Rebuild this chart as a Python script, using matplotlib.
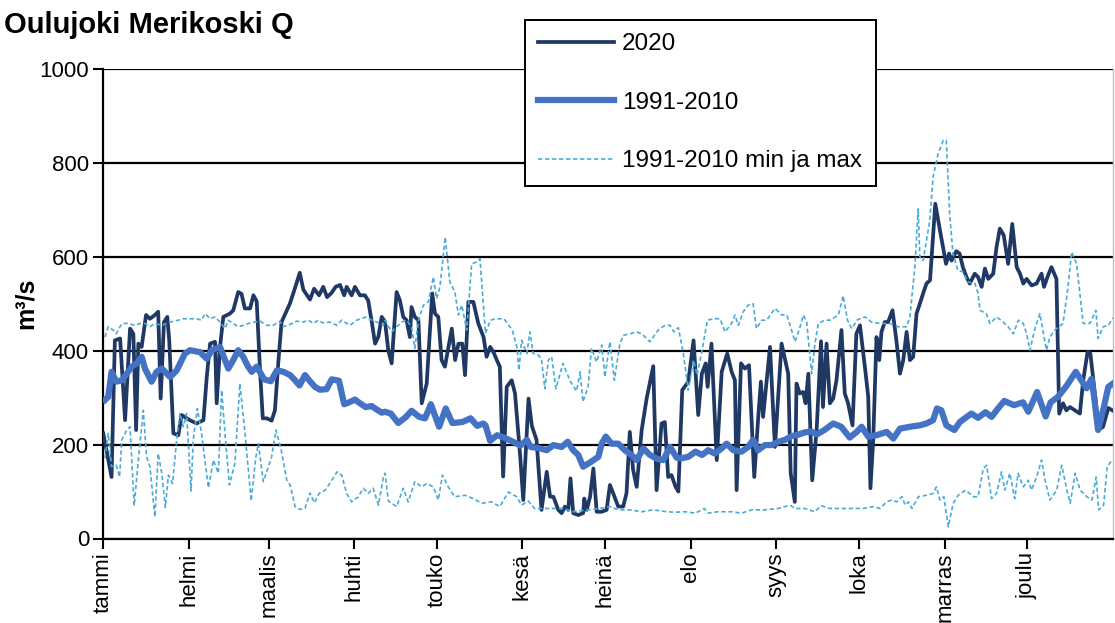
import numpy as np
import matplotlib
matplotlib.use('Agg')
import matplotlib.pyplot as plt
import matplotlib.transforms as mtransforms

plt.rcParams['font.family'] = ['Liberation Sans', 'DejaVu Sans']

# month labels, ticks at the first day of each month (2020, day of year)
months = ['tammi', 'helmi', 'maalis', 'huhti', 'touko', 'kesä',
          'heinä', 'elo', 'syys', 'loka', 'marras', 'joulu']
month_start = [0, 31, 60, 91, 121, 152, 182, 213, 244, 274, 305, 335]

# 2020 daily discharge (day of year, m3/s)
d2020 = [0.1, 3.1, 4.3, 6.2, 8.0, 9.8, 11, 12, 12.8, 14, 15.6, 17, 18.8, 20, 20.9, 22.1, 23.3, 24,
         25.5, 27.3, 28.5, 31.5, 33.9, 36.4, 37.6, 38.8, 40.6, 41.2, 42.4, 43.6, 46, 47.2, 49, 50.2,
         51.4, 53.3, 54.5, 55.7, 56.9, 57.9, 59.3, 61.1, 62.3, 63.5, 64.7, 67.7, 69.5, 71.3, 72.6,
         75, 76.5, 78.3, 79.8, 81.2, 82.8, 84.3, 85.9, 87.4, 88.3, 90.1, 91.3, 93.1, 94.9, 96.1,
         97.4, 98.6, 99.8, 101, 102.2, 103.4, 104.6, 106.4, 107.6, 108.8, 110, 111.2, 111.8, 113,
         114.3, 115.5, 117.3, 119.3, 120.3, 121.5, 122.7, 123.9, 125.2, 126.4, 127.6, 128.8, 130.2,
         131.2, 132.4, 134.2, 136, 137.9, 139, 140.3, 141.5, 142.7, 143.8, 145, 146.3, 148.1, 149.3,
         151.1, 152.3, 154.2, 155.4, 157.1, 158.9, 160.8, 162, 163.2, 165, 166.2, 167.4, 168.6,
         169.4, 170.4, 172.2, 174, 174.4, 175.3, 176.5, 177.7, 178.9, 180.7, 182.5, 183.7, 184.9,
         186.7, 188.5, 189.7, 190.9, 192.1, 193.4, 195.2, 197, 199.4, 200.6, 202.4, 203.6, 204.8,
         206, 207.5, 208.5, 209.9, 212.1, 214, 215.7, 217, 218.4, 219.1, 220.5, 222.4, 224.2,
         226.2, 227.8, 229, 229.6, 231.2, 232.6, 234.1, 236, 237.4, 238.4, 239.2, 241.7, 243.5,
         245.9, 248.3, 249.2, 250.7, 251.3, 252.5, 253.7, 254.6, 255.6, 257, 258.6, 260.2, 260.9,
         262.2, 263.4, 264.6, 265.8, 267.6, 268.8, 270, 271.6, 273, 274.3, 276.1, 277.3, 278.1,
         279.1, 280.3, 281.3, 282.1, 283.3, 284.5, 286.1, 287.5, 288.8, 290, 291.2, 292.4, 293.6,
         294.8, 296, 297.2, 298.4, 299.7, 301.6, 303.3, 305.5, 306.6, 307.5, 309.2, 310.4, 311.6,
         312.9, 314.1, 315.9, 317.1, 318.4, 319.6, 320.8, 322.6, 323.8, 325, 326.4, 328, 329.5,
         331.1, 332.3, 333.5, 334.7, 336.5, 338.3, 340.1, 341, 342.5, 343.7, 345.5, 346.5, 347.9,
         349.1, 350.4, 352.2, 354, 355.2, 356.8, 357.8, 359.6, 360.6, 362.4, 364.3, 366]
q2020 = [224, 131, 422, 426, 252, 447, 436, 231, 415, 408, 476, 468, 476, 483, 298, 461, 472, 422,
         224, 220, 263, 252, 245, 252, 344, 415, 419, 288, 408, 472, 479, 486, 525, 521,
         490, 490, 518, 505, 358, 256, 256, 251, 273, 373, 461, 500, 532, 566, 530,
         509, 532, 518, 536, 514, 523, 536, 540, 518, 536, 518, 536, 518, 518, 507,
         461, 415, 430, 472, 462, 400, 373, 525, 507, 472, 465, 429, 493, 472,
         465, 288, 330, 522, 479, 472, 380, 366, 408, 447, 380, 415, 415,
         348, 504, 504, 458, 429, 387, 408, 397, 380, 366, 132, 323, 337, 309,
         181, 82, 298, 240, 210, 61, 142, 89, 89, 61, 54, 68, 61,
         128, 54, 50, 54, 85, 61, 89, 149, 57, 57, 61, 114, 96,
         68, 68, 96, 227, 146, 110, 231, 298, 367, 103, 245, 248, 131,
         135, 110, 100, 316, 334, 422, 263, 351, 373, 323, 415, 167, 355,
         394, 355, 337, 103, 373, 362, 369, 131, 255, 334, 259, 408, 195,
         415, 351, 139, 78, 330, 309, 312, 288, 351, 124, 231, 420, 280,
         415, 288, 298, 337, 444, 309, 288, 241, 436, 454, 365, 302, 107,
         209, 429, 380, 440, 461, 461, 486, 422, 351, 380, 440, 380, 387,
         479, 500, 522, 543, 550, 713, 656, 585, 607, 592, 612, 607, 578,
         557, 543, 564, 557, 536, 575, 553, 564, 621, 660, 646, 585, 670,
         578, 564, 543, 553, 539, 543, 564, 536, 561, 578, 553, 266, 288,
         273, 280, 273, 266, 337, 398, 394, 300, 231, 238, 278, 272]

# 1991-2010 mean
dmean = [0.7, 1.9, 3.1, 4.8, 6.8, 8.6, 10.4, 12.2, 14, 15.2, 17.6, 19.4, 21.3, 24.3, 26.7, 29.7,
         31.5, 35.1, 37.6, 39.4, 42.4, 45.4, 47.2, 49, 50.8, 52.5, 53.9, 55.7, 58.4, 60.8, 63,
         65.4, 67.8, 69.6, 71.2, 73.2, 75, 76.8, 78.6, 81, 82.9, 85.5, 87.4, 89.2, 91.3, 93.1,
         95.2, 97.4, 98.6, 101, 102.2, 104.3, 107, 109.6, 111.8, 114.6, 116.7, 118.8, 121.8,
         124.2, 126.6, 130.2, 133.2, 135.6, 137.8, 138.6, 140.3, 142.8, 145.3, 148.6, 151.3,
         153.6, 155, 158.3, 160.8, 163.2, 166.2, 168.4, 170.4, 172.2, 174, 176.5, 179.5, 180.7,
         182.2, 184.3, 186.7, 189.1, 191.5, 193.4, 195.8, 198.2, 200.6, 203, 205.5, 207.9, 209.7,
         212.1, 214.7, 217.1, 219.3, 221.7, 224.2, 226, 228.4, 231.4, 233.8, 235.6, 237.4, 239.9,
         242.3, 244.7, 247.1, 249.5, 251.9, 254.3, 256.5, 258.8, 261.4, 264.6, 267.5, 270.6,
         273.1, 274.9, 277.3, 280.3, 284, 286.4, 288.8, 292.4, 296, 298.4, 300.8, 302.2, 303.8,
         305.6, 308.5, 310.5, 312.5, 314.7, 317.1, 319.8, 322, 324.2, 326.6, 330.1, 333.4, 335.3,
         338.5, 341.6, 343.4, 346.1, 349.4, 352.5, 354.3, 356.4, 358.2, 359.2, 360.6, 362.7,
         364.3, 366]
qmean = [295, 302, 355, 334, 337, 351, 366, 373, 387, 362, 334, 355, 362, 344, 358, 394,
         401, 397, 383, 401, 408, 362, 380, 401, 387, 367, 355, 366, 339, 335, 358,
         355, 348, 337, 326, 348, 335, 323, 317, 318, 339, 336, 286, 290, 296, 288,
         280, 282, 277, 268, 270, 266, 246, 258, 272, 259, 256, 286, 238,
         277, 246, 248, 256, 240, 245, 241, 208, 220, 215, 206, 198,
         210, 195, 192, 188, 199, 195, 206, 188, 178, 153, 162, 174, 202,
         217, 202, 202, 188, 178, 167, 192, 178, 170, 167, 195, 172, 171,
         174, 185, 178, 188, 181, 192, 202, 188, 185, 195, 210, 188, 199,
         199, 206, 210, 218, 221, 226, 228, 222, 231, 245, 238, 215,
         227, 238, 217, 220, 227, 213, 234, 238, 241, 245, 252, 277, 273,
         241, 231, 248, 257, 266, 257, 269, 259, 276, 293, 284, 290, 270,
         312, 260, 290, 302, 327, 355, 339, 320, 340, 300, 231, 280,
         323, 330]

# 1991-2010 maximum
dmax = [0.7, 1.9, 3.7, 4.8, 6.8, 9.2, 11.6, 13.4, 15.2, 17, 18.8, 21.3, 24.3, 27.3, 29.1, 31.5,
        33.9, 35.7, 37, 38.8, 40.6, 42.4, 44.2, 45.4, 47.2, 49, 50.8, 53.3, 56.9, 59.3, 61.7,
        64.1, 65.3, 67.8, 70.2, 72.6, 74.4, 76.2, 78, 79.8, 82.2, 84.7, 86.5, 89.5, 91.9, 95.5,
        97.4, 99.2, 101.6, 102.2, 104.6, 106.4, 108.3, 110, 111.8, 113, 114.3, 116.1, 117.9,
        119.7, 120.9, 122.1, 124, 125.7, 127.5, 128.8, 130, 131.8, 133.6, 135.4, 136.6, 138.6,
        140.4, 142.3, 145.3, 148.3, 150, 150.7, 151.7, 153.6, 154.7, 155.9, 157.5, 158.9, 160.1,
        161.4, 162.6, 164.1, 166.7, 169.3, 171.6, 172.9, 173.9, 175.8, 177, 178.9, 180.7, 181.9,
        183.7, 185.3, 187.3, 188.6, 191, 193.4, 195.2, 198.2, 201.2, 203.6, 205.5, 206.9, 208.5,
        210.3, 212.1, 214, 215.3, 217.1, 219, 221.4, 223.6, 225.4, 227.8, 229, 230.2, 232, 233.8,
        235.6, 236.8, 238.7, 240.5, 243.5, 246, 247.8, 249, 250.8, 252.6, 253.8, 255, 256.8, 258,
        259.2, 261.6, 263.4, 266.5, 268.2, 269.8, 271.3, 273.4, 276.1, 278.5, 281.5, 285.1,
        288.2, 291.2, 292.4, 294.2, 295.4, 296, 297.2, 299.6, 300.8, 302.6, 304.5, 305.6, 306.8,
        308, 309.8, 311.6, 313.5, 316, 317.1, 317.8, 320.1, 321.4, 323.8, 326.2, 328, 329.9,
        331.7, 333.5, 334.7, 335.9, 337.7, 339.5, 341.9, 343.1, 344.9, 347.9, 349.7, 351, 352.8,
        355.2, 357.6, 359.8, 360.6, 362.4, 364.3, 366]
qmax = [429, 451, 444, 436, 458, 458, 454, 458, 458, 451, 458, 454, 461, 465, 468, 468,
        468, 465, 479, 468, 472, 461, 447, 465, 458, 451, 454, 459, 463, 454, 454,
        463, 451, 456, 463, 461, 465, 458, 465, 459, 461, 454, 465, 454, 465, 472,
        465, 461, 454, 465, 440, 451, 461, 465, 451, 405, 465, 497, 504,
        557, 511, 536, 642, 546, 525, 476, 497, 444, 585, 589, 596, 437,
        465, 468, 468, 444, 408, 358, 422, 394, 440, 394, 392, 383, 319,
        380, 387, 319, 373, 335, 314, 355, 291, 323, 405, 376, 412, 344,
        419, 337, 415, 433, 436, 440, 436, 419, 444, 454, 454, 440, 449,
        394, 316, 380, 348, 401, 465, 468, 468, 440, 458, 476, 454, 483, 497,
        500, 447, 465, 465, 490, 476, 476, 454, 419, 451, 476, 461, 351, 415,
        458, 465, 465, 476, 517, 465, 447, 466, 472, 461, 458, 458,
        451, 451, 472, 578, 702, 600, 592, 677, 770, 819, 848, 848, 692,
        607, 571, 568, 546, 543, 522, 486, 479, 458, 472, 461, 451, 436,
        465, 458, 436, 401, 447, 479, 401, 429, 444, 458, 536, 610, 585,
        458, 458, 486, 426, 451, 454, 470]

# 1991-2010 minimum
dmin = [0.7, 1.9, 3.1, 4.8, 6, 6.8, 8.6, 9.8, 11.3, 12.8, 14.6, 15.8, 17, 18.8, 20, 21.3, 22.6,
        23.7, 25.2, 26.7, 27.9, 29.1, 30.3, 31.9, 32.7, 34.2, 35.7, 38.2, 40, 41.8, 43, 44.2,
        45.8, 47.8, 49.6, 51.4, 53.7, 55.3, 56.3, 58.1, 61.1, 62.7, 64.7, 66.6, 67.8, 69.6,
        71.4, 73.2, 75, 76.6, 78.3, 80.5, 82.5, 84.8, 86.5, 88.3, 90.1, 92.5, 94.3, 96.1, 97.9,
        99.8, 101.6, 102.2, 103.4, 106.4, 108.8, 110.6, 113, 115.5, 117.3, 119.7, 121.5, 123,
        125.1, 127.4, 131.2, 134.2, 137.2, 140.8, 143.8, 146.9, 149.9, 151.7, 154.1, 156.5,
        159.5, 163.2, 166.8, 170.4, 175.3, 180.1, 183.7, 186.7, 190.9, 195.2, 199.4, 204.2,
        207.2, 210.9, 214.7, 217.9, 219.3, 222.9, 227.8, 231.4, 235.1, 239.9, 244.7, 249, 250.7,
        254.3, 257.9, 260.2, 263.4, 267.1, 270.7, 275.5, 279.1, 281.5, 284, 285.8, 287.6, 289.5,
        290.7, 291.9, 293.1, 295.5, 298.4, 300.8, 302, 303.3, 304.7, 306.3, 308.1, 309.9, 312.6,
        315.4, 317.1, 319, 320.2, 322, 323.8, 325.6, 326.8, 328.6, 330.4, 331.6, 333.5, 335.3,
        336.5, 338.3, 340.1, 341.4, 343.1, 345.6, 347.4, 349.3, 350.5, 352.3, 354.1, 356.5,
        358.4, 359.9, 360.8, 362.6, 363.9, 365.6]
qmin = [171, 224, 153, 156, 131, 210, 231, 238, 70, 167, 273, 174, 153, 46, 181, 139, 66,
        135, 117, 210, 266, 238, 266, 101, 210, 277, 224, 108, 167, 139, 316, 224,
        114, 160, 330, 228, 80, 170, 202, 121, 174, 231, 185, 124, 114, 68,
        62, 64, 97, 76, 96, 103, 120, 142, 135, 96, 78, 89, 107, 96, 107,
        71, 131, 139, 80, 68, 107, 78, 121, 110, 117, 110, 82, 135,
        110, 89, 92, 85, 75, 78, 68, 99, 89, 71, 80, 63,
        64, 64, 64, 57, 61, 64, 68, 61, 61, 57, 61, 57,
        56, 57, 54, 64, 54, 57, 57, 54, 61, 61, 64, 71, 64,
        64, 57, 70, 64, 64, 64, 64, 68, 64, 78, 82, 78, 89,
        71, 78, 64, 89, 92, 96, 110, 82, 89, 25, 75, 92, 103,
        89, 89, 149, 156, 85, 96, 142, 103, 139, 85, 139, 110, 124,
        103, 131, 167, 124, 82, 103, 156, 103, 75, 139, 103, 89,
        82, 131, 61, 71, 153, 167]

c2020 = '#203864'
cmean = '#4472C4'
cminmax = '#4BABD6'

fig = plt.figure(figsize=(11.15, 6.23), dpi=100)
ax = fig.add_axes([103/1115, 1 - 538.5/623, (1113 - 103)/1115, (538.5 - 69)/623])

ax.plot(d2020, q2020, color=c2020, lw=2.7, label='2020', zorder=3)
ax.plot(dmean, qmean, color=cmean, lw=4.5, label='1991-2010', zorder=4, solid_joinstyle='round')
ax.plot(dmin, qmin, color=cminmax, lw=1.2, dashes=(2.6, 1.6), label='1991-2010 min ja max', zorder=5)
ax.plot(dmax, qmax, color=cminmax, lw=1.2, dashes=(2.6, 1.6), zorder=5)

ax.set_xlim(0, 366)
ax.set_ylim(0, 1000)
ax.set_yticks(range(0, 1001, 200))
ax.set_xticks(month_start)
ax.set_xticklabels(months, rotation=90, va='top', ha='center')
offset = mtransforms.ScaledTranslation(4/100, 0, fig.dpi_scale_trans)
for lab in ax.get_xticklabels():
    lab.set_transform(lab.get_transform() + offset)
ax.tick_params(axis='both', labelsize=16, length=7, width=1.5, direction='out', color='black')
ax.tick_params(axis='y', pad=3)
ax.tick_params(axis='x', pad=3)

ax.yaxis.grid(True, color='black', lw=1.6)
ax.set_axisbelow(True)
for side in ['left', 'bottom']:
    ax.spines[side].set_linewidth(1.6)
    ax.spines[side].set_color('black')
ax.spines['top'].set_visible(False)
ax.spines['right'].set_color('#BFBFBF')
ax.spines['right'].set_linewidth(1.0)

ax.set_ylabel('m³/s', fontsize=18, fontweight='bold', labelpad=1)
fig.text(4/1115, 1 - 25/623, 'Oulujoki Merikoski Q', fontsize=21, fontweight='bold',
         ha='left', va='center')

leg = ax.legend(loc='upper left', bbox_to_anchor=(525/1115, 1 - 20/623),
                bbox_transform=fig.transFigure, borderaxespad=0, fontsize=17.5,
                frameon=True, fancybox=False, edgecolor='black', framealpha=1,
                handlelength=3.1, handletextpad=0.35, labelspacing=1.5, borderpad=0.55)
leg.get_frame().set_linewidth(1.4)
leg.set_zorder(10)

fig.savefig('out.png', dpi=100)
